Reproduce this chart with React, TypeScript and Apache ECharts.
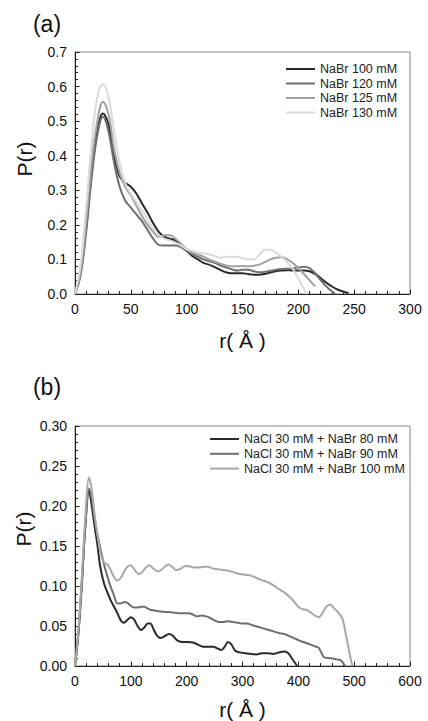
import React, { useEffect, useRef } from "react";
import * as echarts from "echarts";

// ---------- Panel (a) ----------
const topNames = ["NaBr 100 mM", "NaBr 120 mM", "NaBr 125 mM", "NaBr 130 mM"];
const topColors = ["#2b2b2b", "#6e6e6e", "#a2a2a2", "#dadada"];

const rA100 = [0,5,10,15,20,25,30,35,40,45,50,55,60,65,70,75,80,85,90,95,100,105,110,115,120,125,130,135,140,145,150,155,160,165,170,175,180,185,190,195,200,205,210,215,220,225,230,235,240,245];
const pA100 = [0,0.06,0.19,0.35,0.47,0.522,0.49,0.4,0.34,0.322,0.31,0.29,0.262,0.235,0.205,0.18,0.165,0.16,0.155,0.14,0.125,0.11,0.1,0.09,0.085,0.078,0.07,0.063,0.06,0.06,0.06,0.058,0.056,0.056,0.058,0.062,0.066,0.068,0.069,0.068,0.068,0.068,0.066,0.058,0.046,0.033,0.022,0.013,0.007,0.003];

const rA120 = [0,5,10,15,20,25,30,35,40,45,50,55,60,65,70,75,80,85,90,95,100,105,110,115,120,125,130,135,140,145,150,155,160,165,170,175,180,185,190,195,200,205,210,215,220,225,230,233];
const pA120 = [0,0.055,0.18,0.34,0.46,0.513,0.47,0.38,0.31,0.27,0.25,0.23,0.21,0.185,0.16,0.142,0.14,0.14,0.14,0.135,0.125,0.115,0.108,0.1,0.095,0.09,0.083,0.077,0.072,0.068,0.07,0.07,0.066,0.063,0.064,0.067,0.07,0.072,0.073,0.074,0.077,0.079,0.075,0.06,0.04,0.022,0.008,0];

const rA125 = [0,5,10,15,20,25,30,35,40,45,50,55,60,65,70,75,80,85,90,95,100,105,110,115,120,125,130,135,140,145,150,155,160,165,170,175,180,185,190,195,200,205,210,215];
const pA125 = [0,0.065,0.21,0.38,0.5,0.556,0.52,0.42,0.35,0.31,0.285,0.255,0.225,0.2,0.18,0.165,0.17,0.17,0.16,0.145,0.13,0.12,0.115,0.108,0.1,0.094,0.088,0.083,0.08,0.08,0.081,0.08,0.082,0.085,0.092,0.1,0.105,0.106,0.1,0.09,0.075,0.058,0.04,0.022];

const rA130 = [0,5,10,15,20,25,30,35,40,45,50,55,60,65,70,75,80,85,90,95,100,105,110,115,120,125,130,135,140,145,150,155,160,165,170,175,180,185,190,195,200,205,208];
const pA130 = [0,0.085,0.25,0.44,0.57,0.607,0.57,0.47,0.38,0.32,0.29,0.265,0.24,0.215,0.19,0.17,0.16,0.155,0.148,0.14,0.13,0.125,0.12,0.118,0.115,0.11,0.105,0.107,0.108,0.107,0.104,0.1,0.1,0.113,0.128,0.128,0.12,0.108,0.092,0.073,0.045,0.015,0];

// ---------- Panel (b) ----------
const botNames = ["NaCl 30 mM + NaBr 80 mM", "NaCl 30 mM + NaBr 90 mM", "NaCl 30 mM + NaBr 100 mM"];
const botColors = ["#2b2b2b", "#6f6f6f", "#a8a8a8"];

const rB80 = [0,6,12,18,25,30,35,40,45,52,58,64,70,76,82,87,93,100,106,112,118,124,130,135,140,146,153,160,168,175,183,192,202,213,222,230,240,248,255,262,268,274,280,287,295,305,315,325,335,345,355,365,375,382,388,393,398];
const pB80 = [0,0.04,0.1,0.17,0.22,0.2,0.175,0.152,0.125,0.103,0.092,0.082,0.074,0.066,0.057,0.054,0.057,0.061,0.058,0.05,0.045,0.048,0.053,0.053,0.047,0.039,0.035,0.037,0.04,0.038,0.032,0.03,0.03,0.029,0.026,0.024,0.024,0.024,0.022,0.02,0.024,0.03,0.027,0.019,0.017,0.016,0.015,0.0145,0.016,0.016,0.015,0.017,0.018,0.016,0.01,0.005,0];

const rB90 = [0,6,12,18,25,30,35,40,46,52,58,64,70,76,82,88,94,100,106,112,118,124,130,136,145,155,165,175,185,195,205,212,218,226,235,242,250,258,266,275,283,292,300,308,318,328,337,347,357,367,375,385,395,405,413,421,428,436,441,446,453,462,470,476,480,484];
const pB90 = [0,0.04,0.1,0.17,0.222,0.21,0.185,0.165,0.145,0.127,0.112,0.099,0.088,0.078,0.078,0.08,0.079,0.075,0.073,0.073,0.074,0.074,0.072,0.07,0.069,0.068,0.0675,0.067,0.066,0.066,0.066,0.064,0.062,0.063,0.062,0.06,0.057,0.055,0.055,0.056,0.055,0.054,0.053,0.053,0.051,0.049,0.047,0.045,0.043,0.041,0.04,0.037,0.034,0.031,0.029,0.027,0.025,0.023,0.017,0.011,0.01,0.0095,0.008,0.007,0.004,0];

const rB100 = [0,6,12,18,25,30,35,40,46,52,58,64,70,76,82,88,94,99,105,110,115,120,127,133,140,149,156,162,167,174,181,188,194,200,208,215,222,230,238,246,255,265,275,285,295,305,315,325,335,345,355,365,375,385,393,400,408,415,422,430,437,443,450,457,463,470,476,480,485,490,494,497];
const pB100 = [0,0.045,0.11,0.18,0.236,0.22,0.19,0.165,0.14,0.129,0.127,0.12,0.111,0.107,0.11,0.118,0.124,0.126,0.122,0.117,0.115,0.117,0.123,0.126,0.122,0.118,0.121,0.125,0.127,0.124,0.12,0.121,0.124,0.125,0.124,0.123,0.123,0.124,0.124,0.122,0.121,0.12,0.119,0.117,0.115,0.114,0.113,0.11,0.107,0.105,0.101,0.096,0.092,0.086,0.08,0.074,0.071,0.07,0.067,0.063,0.061,0.066,0.074,0.077,0.073,0.068,0.063,0.057,0.04,0.022,0.008,0];

const FONT = "Liberation Sans, Arial, sans-serif";

const pair = (r: number[], p: number[]) => r.map((x, i) => [x, p[i]]);

function App() {
  const ref = useRef<HTMLDivElement>(null);
  useEffect(() => {
    if (!ref.current) return;
    const chart = echarts.init(ref.current, undefined, { renderer: "svg" });

    const axisCommon = {
      axisLine: { show: true, onZero: false, lineStyle: { color: "#222", width: 1 } },
      axisTick: { show: true, inside: true, length: 4.5, lineStyle: { color: "#222" } },
      minorTick: { show: true, splitNumber: 5, length: 3, lineStyle: { color: "#222" } },
      splitLine: { show: false },
      axisLabel: { color: "#111", fontSize: 14, fontFamily: FONT, margin: 8 },
    };

    const topData = [pair(rA100, pA100), pair(rA120, pA120), pair(rA125, pA125), pair(rA130, pA130)];
    const botData = [pair(rB80, pB80), pair(rB90, pB90), pair(rB100, pB100)];

    const series: any[] = [];
    topData.forEach((d, i) => {
      series.push({
        type: "line", name: topNames[i], xAxisIndex: 0, yAxisIndex: 0, data: d,
        showSymbol: false, symbol: "none", smooth: 0.4,
        lineStyle: { color: topColors[i], width: 2 }, itemStyle: { color: topColors[i] },
      });
    });
    botData.forEach((d, i) => {
      series.push({
        type: "line", name: botNames[i], xAxisIndex: 1, yAxisIndex: 1, data: d,
        showSymbol: false, symbol: "none", smooth: 0.3,
        lineStyle: { color: botColors[i], width: 2 }, itemStyle: { color: botColors[i] },
      });
    });

    const legendCommon = {
      orient: "vertical", icon: "rect", itemHeight: 2, padding: 0,
      textStyle: { fontSize: 12.5, fontFamily: FONT, color: "#222", lineHeight: 14 },
    };

    chart.setOption({
      animation: false,
      backgroundColor: "#fff",
      grid: [
        { left: 75, top: 52, width: 335, height: 242, show: true, borderColor: "#888", borderWidth: 1 },
        { left: 75, top: 426, width: 335, height: 240, show: true, borderColor: "#888", borderWidth: 1 },
      ],
      xAxis: [
        { ...axisCommon, type: "value", gridIndex: 0, min: 0, max: 300, interval: 50,
          name: "r( Å )", nameLocation: "middle", nameGap: 36,
          nameTextStyle: { fontSize: 21, fontFamily: FONT, color: "#111" } },
        { ...axisCommon, type: "value", gridIndex: 1, min: 0, max: 600, interval: 100,
          name: "r( Å )", nameLocation: "middle", nameGap: 33,
          nameTextStyle: { fontSize: 21, fontFamily: FONT, color: "#111" } },
      ],
      yAxis: [
        { ...axisCommon, type: "value", gridIndex: 0, min: 0, max: 0.7, interval: 0.1,
          axisLabel: { ...axisCommon.axisLabel, formatter: (v: number) => v.toFixed(1) } },
        { ...axisCommon, type: "value", gridIndex: 1, min: 0, max: 0.3, interval: 0.05,
          axisLabel: { ...axisCommon.axisLabel, formatter: (v: number) => v.toFixed(2) } },
      ],
      legend: [
        { ...legendCommon, left: 286, top: 62, itemWidth: 29, itemGap: 0.5, data: topNames },
        { ...legendCommon, left: 210, top: 432, itemWidth: 29, itemGap: 0.8, data: botNames },
      ],
      graphic: [
        { type: "text", x: 47, y: 24, style: { text: "(a)", fontSize: 23, fontFamily: FONT, fill: "#111", align: "center", verticalAlign: "middle" } },
        { type: "text", x: 47, y: 387, style: { text: "(b)", fontSize: 23, fontFamily: FONT, fill: "#111", align: "center", verticalAlign: "middle" } },
        { type: "text", x: 24, y: 159, rotation: Math.PI / 2, style: { text: "P(r)", fontSize: 21, fontFamily: FONT, fill: "#111", align: "center", verticalAlign: "middle" } },
        { type: "text", x: 23, y: 529, rotation: Math.PI / 2, style: { text: "P(r)", fontSize: 21, fontFamily: FONT, fill: "#111", align: "center", verticalAlign: "middle" } },
      ],
      series,
    });

    return () => chart.dispose();
  }, []);

  return <div ref={ref} style={{ position: "fixed", left: 0, top: 0, width: 428, height: 721 }} />;
}

export default App;
